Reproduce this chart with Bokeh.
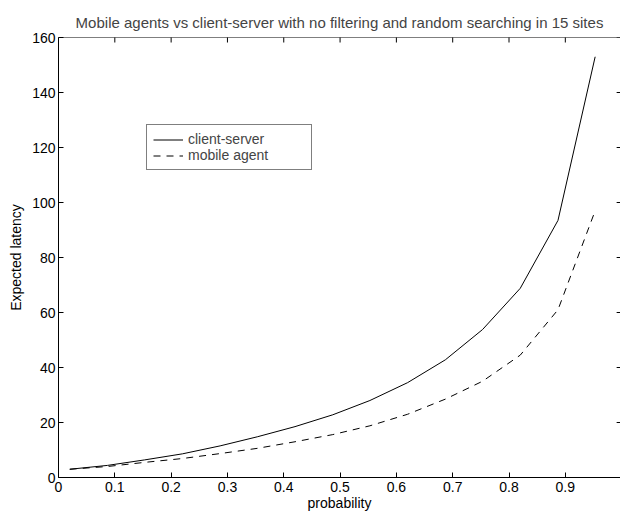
import math
from bokeh.plotting import figure
from bokeh.models import Range1d, Legend, LegendItem, FixedTicker, Title, Span
from bokeh.embed import file_html
from bokeh.resources import INLINE

# data
probability = [0.02, 0.087, 0.153, 0.22, 0.287, 0.353, 0.42, 0.487, 0.553, 0.62, 0.687, 0.753, 0.82, 0.887, 0.953]
client_server = [3.0, 4.4, 6.4, 8.6, 11.5, 14.8, 18.5, 22.8, 28.0, 34.5, 42.8, 53.8, 68.8, 93.5, 153.0]
mobile_agent = [3.0, 4.0, 5.5, 6.9, 8.7, 10.6, 13.0, 15.6, 18.8, 23.0, 28.5, 35.0, 44.5, 61.0, 97.0]
x_ticks = [0, 0.1, 0.2, 0.3, 0.4, 0.5, 0.6, 0.7, 0.8, 0.9, 1.0]
y_ticks = [0, 20, 40, 60, 80, 100, 120, 140, 160]

FONT = "Liberation Sans"
X_MAX = x_ticks[-1]
Y_MAX = y_ticks[-1]

p = figure(width=620, height=514, output_backend="svg", toolbar_location=None,
           x_range=Range1d(0, 0.998), y_range=Range1d(0, Y_MAX),
           min_border_left=58, min_border_right=0, min_border_top=37, min_border_bottom=37)
p.title = Title(text="Mobile agents vs client-server with no filtering and random searching in 15 sites",
                text_font=FONT, text_font_size="15px", text_font_style="normal",
                align="center", offset=0, standoff=14)
p.grid.visible = False
p.outline_line_color = None
p.background_fill_color = "white"
p.border_fill_color = "white"

for ax in (p.xaxis[0], p.yaxis[0]):
    ax.major_tick_in = 5
    ax.major_tick_out = 0
    ax.minor_tick_line_color = None
    ax.axis_line_color = "black"
    ax.major_tick_line_color = "black"
    ax.major_label_text_font = FONT
    ax.major_label_text_font_size = "14px"
    ax.major_label_text_color = "black"
    ax.axis_label_text_font = FONT
    ax.axis_label_text_font_size = "14px"
    ax.axis_label_text_font_style = "normal"
    ax.axis_label_text_color = "black"

p.xaxis[0].ticker = FixedTicker(ticks=x_ticks)
p.yaxis[0].ticker = FixedTicker(ticks=y_ticks)
p.xaxis[0].axis_label = "probability"
p.yaxis[0].axis_label = "Expected latency"
p.xaxis[0].major_label_standoff = 4
p.xaxis[0].axis_label_standoff = 0
p.yaxis[0].major_label_standoff = 3
p.yaxis[0].axis_label_standoff = 5

# box: top border line and inward ticks on top / right (clipped to the frame)
p.add_layout(Span(location=Y_MAX, dimension="width", line_color="black", line_width=1))
p.scatter(x=x_ticks, y=[Y_MAX] * len(x_ticks), marker="dash", angle=math.pi / 2,
          size=10, line_color="black", line_width=1)
p.scatter(x=[X_MAX] * len(y_ticks), y=y_ticks, marker="dash",
          size=10, line_color="black", line_width=1)

r1 = p.line(probability, client_server, line_color="black", line_width=1)
r2 = p.line(probability, mobile_agent, line_color="black", line_width=1, line_dash="7 6")

legend = Legend(items=[LegendItem(label="client-server", renderers=[r1]),
                       LegendItem(label="mobile agent", renderers=[r2])],
                location=(88, 307), orientation="vertical",
                border_line_color="black", border_line_width=1,
                background_fill_color="white", background_fill_alpha=1,
                label_text_font=FONT, label_text_font_size="14px",
                glyph_width=30, glyph_height=15, label_height=15, label_width=117,
                label_standoff=5, spacing=-2, padding=6, margin=0)
p.add_layout(legend, "center")

open("out.html", "w").write(file_html(p, INLINE))
